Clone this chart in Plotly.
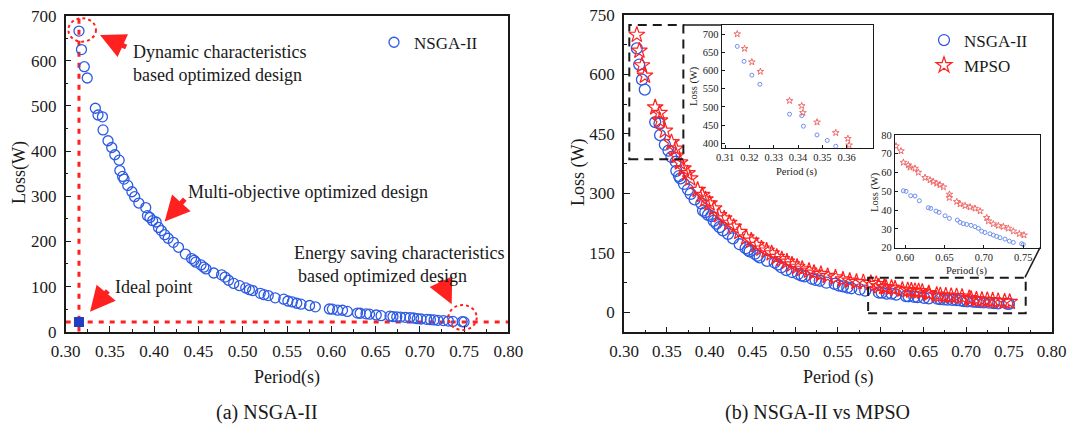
import plotly.graph_objects as go

W, H = 1073, 427

# ---------------- data ----------------
nsga_period = [0.3150, 0.3178, 0.3210, 0.3243, 0.3365, 0.3415, 0.3422, 0.3478, 0.3520, 0.3555,
               0.3604, 0.3612, 0.3643, 0.3659, 0.3701, 0.3748, 0.3779, 0.3826, 0.3904, 0.3924,
               0.3951, 0.3982, 0.4021, 0.4048, 0.4080, 0.4118, 0.4157, 0.4216, 0.4274, 0.4352,
               0.4422, 0.4450, 0.4469, 0.4528, 0.4560, 0.4586, 0.4672, 0.4761, 0.4800, 0.4839,
               0.4898, 0.4964, 0.5034, 0.5075, 0.5112, 0.5198, 0.5240, 0.5288, 0.5366, 0.5463,
               0.5510, 0.5560, 0.5610, 0.5658, 0.5755, 0.5820, 0.5979, 0.6013, 0.6072, 0.6127,
               0.6182, 0.6296, 0.6326, 0.6393, 0.6432, 0.6508, 0.6563, 0.6664, 0.6697, 0.6740,
               0.6782, 0.6837, 0.6888, 0.6930, 0.6972, 0.7014, 0.7078, 0.7120, 0.7162, 0.7205,
               0.7268, 0.7323, 0.7374, 0.7479, 0.7500]
nsga_loss = [666, 625, 587, 562, 480, 476, 447, 423, 408, 392,
             380, 357, 344, 338, 324, 310, 299, 285, 275, 257,
             253, 246, 243, 231, 224, 215, 207, 198, 187, 172,
             162, 158, 154, 148, 143, 139, 130, 126, 121, 114,
             107, 102, 97, 93, 91, 85, 82, 80, 75, 72,
             68, 66, 63, 61, 58, 55, 50.3, 50.0, 47.7, 47.5,
             45.0, 41.3, 40.9, 39.5, 38.8, 37.0, 35.6, 34.7, 33.5, 32.8,
             32.4, 31.9, 31.2, 30.3, 28.8, 28.1, 27.4, 26.7, 26.0, 25.3,
             24.6, 23.5, 22.8, 22.1, 21.7]

# extra point that only appears in panel (a)
left_extra_period = [0.3335]
left_extra_loss = [495]

mpso_period = [0.3150, 0.3180, 0.3210, 0.3245, 0.3365, 0.3415, 0.3420, 0.3478, 0.3555, 0.3605,
               0.3610, 0.3655, 0.3694, 0.3742, 0.3774, 0.3861, 0.3913, 0.3952, 0.4000, 0.4052,
               0.4111, 0.4171, 0.4230, 0.4282, 0.4349, 0.4429, 0.4488, 0.4548, 0.4607, 0.4667,
               0.4726, 0.4786, 0.4845, 0.4905, 0.4964, 0.5024, 0.5083, 0.5163, 0.5222, 0.5302,
               0.5381, 0.5472, 0.5560, 0.5639, 0.5718, 0.5798, 0.5886, 0.5949, 0.5979, 0.6042,
               0.6063, 0.6127, 0.6169, 0.6254, 0.6317, 0.6359, 0.6402, 0.6444, 0.6487, 0.6563,
               0.6563, 0.6656, 0.6698, 0.6762, 0.6825, 0.6888, 0.6952, 0.7036, 0.7057, 0.7120,
               0.7184, 0.7247, 0.7310, 0.7374, 0.7450, 0.7509]
mpso_loss = [700, 660, 623, 597, 517, 503, 484, 458, 429, 413,
             395, 378, 363, 351, 338, 309, 296, 285, 275, 262,
             245, 237, 226, 216, 203, 189, 181, 170, 161, 156,
             149, 140, 134, 128, 121, 115, 110, 105, 100, 97,
             92, 88, 83, 80, 77, 76, 74.1, 71.5, 65.4, 64.0,
             62.8, 62.2, 60.1, 57.3, 56.0, 55.1, 54.2, 53.4, 52.3, 48.4,
             46.6, 44.5, 43.2, 42.3, 41.6, 40.9, 39.5, 36.0, 34.2, 32.6,
             31.7, 31.2, 30.3, 28.8, 27.4, 26.7]

main_x_ticks = [0.30, 0.35, 0.40, 0.45, 0.50, 0.55, 0.60, 0.65, 0.70, 0.75, 0.80]
left_y_ticks = [0, 100, 200, 300, 400, 500, 600, 700]
right_y_ticks = [0, 150, 300, 450, 600, 750]
inset1_x_ticks = [0.31, 0.32, 0.33, 0.34, 0.35, 0.36]
inset1_y_ticks = [400, 450, 500, 550, 600, 650, 700]
inset2_x_ticks = [0.60, 0.65, 0.70, 0.75]
inset2_y_ticks = [20, 30, 40, 50, 60, 70, 80]

# ideal point = (min period, min loss)
ideal_period = min(nsga_period)
ideal_loss = min(nsga_loss)

# ---------------- styling ----------------
FONT = "Liberation Serif"
BLUE = "#2d5be3"
RED = "#ff2020"
INK = "#1a1a1a"


def pxx(x):
    return x / W


def pxy(y):
    return 1 - y / H


fig = go.Figure()

# panel (a)
fig.add_trace(go.Scatter(x=nsga_period + left_extra_period, y=nsga_loss + left_extra_loss,
                         mode="markers", name="NSGA-II", legend="legend",
                         marker=dict(symbol="circle-open", size=10, color=BLUE, line=dict(width=1.3)),
                         xaxis="x", yaxis="y"))
fig.add_trace(go.Scatter(x=[ideal_period], y=[ideal_loss], mode="markers", showlegend=False,
                         marker=dict(symbol="square", size=10, color="#1c3fc4"),
                         xaxis="x", yaxis="y"))

# panel (b)
fig.add_trace(go.Scatter(x=nsga_period, y=nsga_loss, mode="markers", name="NSGA-II", legend="legend2",
                         marker=dict(symbol="circle-open", size=11, color=BLUE, line=dict(width=1.3)),
                         xaxis="x2", yaxis="y2"))
fig.add_trace(go.Scatter(x=mpso_period, y=mpso_loss, mode="markers", name="MPSO", legend="legend2",
                         marker=dict(symbol="star-open", size=12, color=RED, line=dict(width=1.2)),
                         xaxis="x2", yaxis="y2"))

# insets
for xa, ya in (("x3", "y3"), ("x4", "y4")):
    fig.add_trace(go.Scatter(x=nsga_period, y=nsga_loss, mode="markers", showlegend=False,
                             marker=dict(symbol="circle-open", size=4, color="#6f8ff0", line=dict(width=1)),
                             xaxis=xa, yaxis=ya, cliponaxis=True))
    fig.add_trace(go.Scatter(x=mpso_period, y=mpso_loss, mode="markers", showlegend=False,
                             marker=dict(symbol="star-open", size=5, color="#f06a6a", line=dict(width=1)),
                             xaxis=xa, yaxis=ya, cliponaxis=True))

axis_common = dict(showline=True, linecolor=INK, linewidth=1.5, mirror=True, showgrid=False,
                   zeroline=False, ticks="inside", tickcolor=INK, ticklen=6, tickwidth=1.3,
                   automargin=False, tickfont=dict(family=FONT, size=17, color=INK))
inset_common = dict(showline=True, linecolor=INK, linewidth=1.3, mirror=True, showgrid=False,
                    zeroline=False, ticks="inside", tickcolor=INK, ticklen=3, tickwidth=1,
                    automargin=False, tickfont=dict(family=FONT, size=10.5, color=INK))

# domains (paper)
xa_dom = [pxx(65.7), pxx(508.3)]
ya_dom = [pxy(331.7), pxy(15.7)]
xb_dom = [pxx(624), pxx(1051.7)]
yb_dom = [pxy(332.3), pxy(15)]
x3_dom = [pxx(721.7), pxx(872.7)]
y3_dom = [pxy(147.7), pxy(25)]
x4_dom = [pxx(895), pxx(1040)]
y4_dom = [pxy(247.7), pxy(135)]

fig.update_layout(
    width=W, height=H, margin=dict(l=0, r=0, t=0, b=0, pad=0, autoexpand=False),
    paper_bgcolor="white", plot_bgcolor="white",
    font=dict(family=FONT, color=INK),
    xaxis=dict(domain=xa_dom, range=[0.30, 0.80], anchor="y", tickvals=main_x_ticks,
               tickformat=".2f", ticklabelstandoff=3,
               minor=dict(ticks="inside", dtick=0.025, ticklen=3, tickcolor=INK), **axis_common),
    yaxis=dict(domain=ya_dom, range=[0, 700], anchor="x", tickvals=left_y_ticks, ticklabelstandoff=4,
               minor=dict(ticks="inside", dtick=50, ticklen=3, tickcolor=INK), **axis_common),
    xaxis2=dict(domain=xb_dom, range=[0.30, 0.80], anchor="y2", tickvals=main_x_ticks,
                tickformat=".2f", ticklabelstandoff=3,
                minor=dict(ticks="inside", dtick=0.025, ticklen=3, tickcolor=INK), **axis_common),
    yaxis2=dict(domain=yb_dom, range=[-50, 750], anchor="x2", tickvals=right_y_ticks, ticklabelstandoff=4,
                minor=dict(ticks="inside", tickvals=[75, 225, 375, 525, 675], ticklen=3, tickcolor=INK),
                **axis_common),
    xaxis3=dict(domain=x3_dom, range=[0.3086, 0.3707], anchor="y3", tickvals=inset1_x_ticks,
                tickformat=".2f", **inset_common),
    yaxis3=dict(domain=y3_dom, range=[388, 724.7], anchor="x3", tickvals=inset1_y_ticks, **inset_common),
    xaxis4=dict(domain=x4_dom, range=[0.5873, 0.7712], anchor="y4", tickvals=inset2_x_ticks,
                tickformat=".2f", **inset_common),
    yaxis4=dict(domain=y4_dom, range=[20, 80], anchor="x4", tickvals=inset2_y_ticks, **inset_common),
    legend=dict(x=pxx(374), y=pxy(42.7), xanchor="left", yanchor="middle", bgcolor="rgba(0,0,0,0)",
                font=dict(family=FONT, size=17, color=INK)),
    legend2=dict(x=pxx(924), y=pxy(53), xanchor="left", yanchor="middle", bgcolor="rgba(0,0,0,0)",
                 font=dict(family=FONT, size=17, color=INK), tracegroupgap=0),
)

shapes = []
red_dot = dict(color=RED, width=3, dash="5px,6px")
# ideal point guide lines
shapes.append(dict(type="line", xref="x", yref="y", x0=ideal_period, x1=ideal_period, y0=0, y1=700,
                   line=red_dot, layer="below"))
shapes.append(dict(type="line", xref="x", yref="y", x0=0.30, x1=0.80, y0=ideal_loss, y1=ideal_loss,
                   line=red_dot, layer="below"))
# dotted ellipses
shapes.append(dict(type="circle", xref="x", yref="y", x0=0.3030, x1=0.3342, y0=642.5, y1=694.3,
                   line=dict(color=RED, width=2, dash="dot")))
shapes.append(dict(type="circle", xref="x", yref="y", x0=0.7323, x1=0.7643, y0=3.8, y1=59.2,
                   line=dict(color=RED, width=2, dash="dot")))
# zoom boxes in panel (b)
dash_k = dict(color=INK, width=2, dash="9px,6px")
shapes.append(dict(type="rect", xref="x2", yref="y2", x0=0.3062, x1=0.3694, y0=386, y1=724.7, line=dash_k))
shapes.append(dict(type="rect", xref="x2", yref="y2", x0=0.5854, x1=0.7696, y0=-2, y1=87.6, line=dash_k))
# connectors
shapes.append(dict(type="line", xref="paper", yref="paper", x0=pxx(683.3), x1=pxx(721.7),
                   y0=pxy(25), y1=pxy(25), line=dict(color=INK, width=1.5)))
shapes.append(dict(type="line", xref="paper", yref="paper", x0=pxx(1025), x1=pxx(1040),
                   y0=pxy(277.3), y1=pxy(247.7), line=dict(color=INK, width=1.5)))
fig.update_layout(shapes=shapes)

ann = []
AF = dict(family=FONT, size=18, color=INK)


def arrow(tip, tail):
    return dict(x=tip[0], y=tip[1], ax=tail[0], ay=tail[1], xref="x", yref="y", axref="x", ayref="y",
                text="", showarrow=True, arrowhead=2, arrowsize=1.0, arrowwidth=5, arrowcolor=RED,
                standoff=0, startstandoff=0)


ann.append(arrow((0.3388, 657), (0.3700, 629)))
ann.append(arrow((0.4118, 244), (0.4360, 297)))
ann.append(arrow((0.7360, 61), (0.7225, 117)))
ann.append(arrow((0.3275, 44), (0.3490, 94)))

ann.append(dict(x=0.3736, y=595, xref="x", yref="y", xanchor="left", yanchor="middle", align="left",
                text="Dynamic characteristics<br>based optimized design", showarrow=False, font=AF))
ann.append(dict(x=0.4360, y=309, xref="x", yref="y", xanchor="left", yanchor="middle",
                text="Multi-objective optimized design", showarrow=False, font=AF))
ann.append(dict(x=0.5558, y=174, xref="x", yref="y", xanchor="left", yanchor="middle",
                text="Energy saving characteristics", showarrow=False, font=AF))
ann.append(dict(x=0.5605, y=124, xref="x", yref="y", xanchor="left", yanchor="middle",
                text="based optimized design", showarrow=False, font=AF))
ann.append(dict(x=0.3534, y=100, xref="x", yref="y", xanchor="left", yanchor="middle",
                text="Ideal point", showarrow=False, font=AF))

TF = dict(family=FONT, size=18, color=INK)


def paper_text(x, y, text, font, angle=0):
    return dict(x=pxx(x), y=pxy(y), xref="paper", yref="paper", xanchor="center", yanchor="middle",
                text=text, textangle=angle, showarrow=False, font=font)


# axis titles
ann.append(paper_text(287, 377, "Period(s)", TF))
ann.append(paper_text(19, 173, "Loss(W)", TF, -90))
ann.append(paper_text(838, 377, "Period (s)", TF))
ann.append(paper_text(578, 173, "Loss (W)", TF, -90))
# captions
CF = dict(family=FONT, size=20, color=INK)
ann.append(paper_text(267, 412, "(a) NSGA-II", CF))
ann.append(paper_text(817, 412, "(b) NSGA-II vs MPSO", CF))
# inset axis titles
IF = dict(family=FONT, size=10.5, color=INK)
ann.append(paper_text(797, 172, "Period (s)", IF))
ann.append(paper_text(694, 86, "Loss (W)", IF, -90))
ann.append(paper_text(967, 271, "Period (s)", IF))
ann.append(paper_text(875, 192, "Loss (W)", IF, -90))

fig.update_layout(annotations=ann)

fig.write_html("out.html", config={"displayModeBar": False},
               post_script="document.body.style.margin='0';document.body.style.overflow='hidden';")
